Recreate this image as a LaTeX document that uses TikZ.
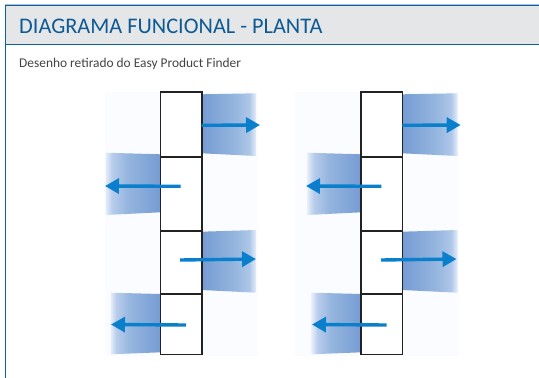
\documentclass[tikz,border=0pt]{standalone}
\usepackage{fontspec}
\setmainfont{Carlito}
\usetikzlibrary{arrows.meta}
\definecolor{hdrblue}{HTML}{0F5F9C}
\definecolor{hdrlight}{HTML}{A9C4DA}
\definecolor{hdrgray}{HTML}{E5E6E8}
\definecolor{titleblue}{HTML}{0D5A94}
\definecolor{bodygray}{HTML}{444444}
\definecolor{paneltint}{HTML}{FBFCFF}
\definecolor{arrowblue}{HTML}{0A7FCC}
\definecolor{boxline}{HTML}{222222}
\pgfdeclarehorizontalshading{fadeR}{100bp}{
  rgb(0bp)=(0.46,0.61,0.83); rgb(25bp)=(0.46,0.61,0.83); rgb(55bp)=(0.58,0.71,0.87);
  rgb(69bp)=(0.68,0.78,0.91); rgb(75bp)=(0.90,0.93,0.98); rgb(100bp)=(0.90,0.93,0.98)}
\pgfdeclarehorizontalshading{fadeL}{100bp}{
  rgb(0bp)=(0.90,0.93,0.98); rgb(25bp)=(0.90,0.93,0.98); rgb(31bp)=(0.72,0.80,0.92);
  rgb(45bp)=(0.58,0.71,0.87); rgb(75bp)=(0.46,0.61,0.83); rgb(100bp)=(0.46,0.61,0.83)}
\tikzset{
  x=1pt,y=-1pt,
  flow/.style={line width=3.4pt,draw=arrowblue,-{Triangle[length=14pt,width=15pt,fill=arrowblue]}},
  cellbox/.style={draw=boxline,line width=1.6pt,fill=white},
  panel/.style={fill=paneltint,draw=none},
  hdrrule/.style={draw=hdrblue,line width=1.2pt},
  titletext/.style={anchor=base west,inner sep=0pt,text=titleblue,font=\fontsize{22.3}{24}\selectfont},
  bodytext/.style={anchor=base west,inner sep=0pt,text=bodygray,font=\fontsize{13.4}{15}\selectfont}
}
\newcommand{\planta}[7]{%
  \fill[panel] (#1,92) rectangle (#2,356);
  \shade[shading=fadeR] (#4,94.3) -- (#5,93.3) -- (#5,156) -- (#4,153.3) -- cycle;
  \shade[shading=fadeL] (#6,152.7) -- (#3,154.3) -- (#3,212.3) -- (#6,215) -- cycle;
  \shade[shading=fadeR] (#4,231.7) -- (#5,230) -- (#5,292.7) -- (#4,290) -- cycle;
  \shade[shading=fadeL] (#7,292.7) -- (#3,294) -- (#3,352.3) -- (#7,354.3) -- cycle;
  \draw[cellbox] (#3,92) rectangle (#4,354.4);
  \draw[cellbox] (#3,156.7) -- (#4,156.7);
  \draw[cellbox] (#3,230.7) -- (#4,230.7);
  \draw[cellbox] (#3,294) -- (#4,294);
}
\begin{document}
\begin{tikzpicture}
\useasboundingbox (0,0) rectangle (539,378);
\fill[white] (0,0) rectangle (539,378);
\fill[hdrgray] (5,5.5) rectangle (539,44);
\draw[draw=hdrlight,line width=0.8pt] (5,4.6) -- (539,4.6);
\draw[hdrrule] (5,5.6) -- (539,5.6);
\draw[hdrrule] (5,44.2) -- (539,44.2);
\draw[hdrrule] (5.6,5) -- (5.6,378);
\node[titletext] (title) at (19,33) {DIAGRAMA FUNCIONAL - PLANTA};
\node[bodytext] (body) at (19,67) {Desenho retirado do Easy Product Finder};
\planta{105}{258}{160.5}{201.7}{256}{105.5}{110.5}
\planta{295}{459}{361}{402.4}{457.5}{307.3}{311.7}
\coordinate (a1s) at (201.7,125.3); \coordinate (a1e) at (260,125);
\coordinate (a2s) at (180.7,186.3); \coordinate (a2e) at (105,186);
\coordinate (a3s) at (180,260);     \coordinate (a3e) at (256,259);
\coordinate (a4s) at (186,325);     \coordinate (a4e) at (111,324.5);
\draw[flow] (a1s) -- (a1e);
\draw[flow] (a2s) -- (a2e);
\draw[flow] (a3s) -- (a3e);
\draw[flow] (a4s) -- (a4e);
\coordinate (b1s) at (402.4,125.3); \coordinate (b1e) at (460.7,125);
\coordinate (b2s) at (381.3,186.3); \coordinate (b2e) at (306,186);
\coordinate (b3s) at (381,260);     \coordinate (b3e) at (456.5,259);
\coordinate (b4s) at (386.7,325);   \coordinate (b4e) at (312,324.5);
\draw[flow] (b1s) -- (b1e);
\draw[flow] (b2s) -- (b2e);
\draw[flow] (b3s) -- (b3e);
\draw[flow] (b4s) -- (b4e);
\end{tikzpicture}
\end{document}
